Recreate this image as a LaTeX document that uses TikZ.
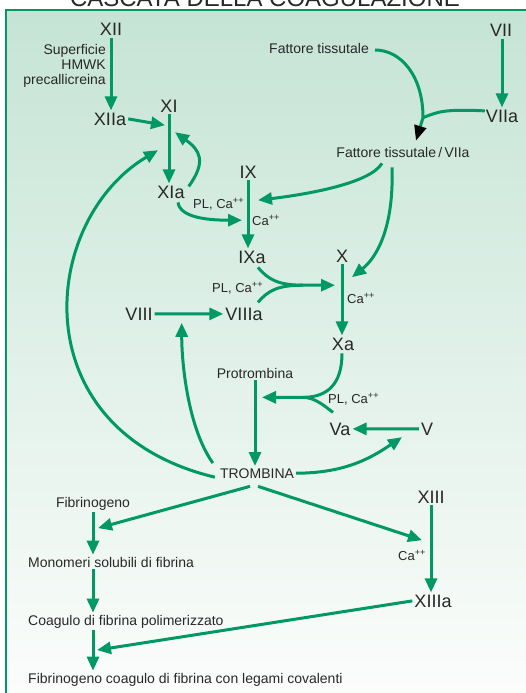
\documentclass[tikz,border=0pt]{standalone}
\usepackage{fontspec}
\setmainfont{Liberation Sans}
\usepackage{tikz}
\usetikzlibrary{calc, arrows.meta}
\definecolor{grn}{RGB}{0,152,100}
\definecolor{txt}{RGB}{40,40,40}
\definecolor{bgtop}{RGB}{197,228,213}
\definecolor{bgbot}{RGB}{252,253,252}

\begin{document}
\begin{tikzpicture}[x=1pt, y=-1pt, >={Triangle[length=14pt, width=12pt]},
  fac/.style={anchor=base, inner sep=2pt, text=txt, font=\fontsize{18}{20}\selectfont},
  lab/.style={anchor=base, inner sep=2pt, text=txt, font=\fontsize{14}{15}\selectfont},
  ion/.style={anchor=base west, inner sep=0pt, text=txt, font=\fontsize{13}{15}\selectfont},
  arr/.style={->, draw=grn, line width=3pt},
  ln/.style={draw=grn, line width=3pt}]
\useasboundingbox (0,0) rectangle (525,693);
\shade[top color=bgtop, bottom color=bgbot] (6,10) rectangle (530,700);
\draw[grn, line width=2.6pt] (530,10) -- (6,10) -- (6,700);
\node[anchor=base, text=txt, font=\fontsize{24}{26}\selectfont] (title) at (265,7) {CASCATA DELLA COAGULAZIONE};

\node[fac] (XII) at (111,36) {XII};
\node[lab, anchor=north east, align=right] (sup) at (108,42) {Superficie\\HMWK\\precallicreina};
\node[fac] (XIIa) at (110,125) {XIIa};
\node[fac] (XI) at (169,112) {XI};
\node[fac] (XIa) at (171,198) {XIa};
\node[fac] (IX) at (248,178) {IX};
\node[fac] (IXa) at (252,263) {IXa};
\node[fac] (X) at (342,262) {X};
\node[fac] (Xa) at (343,350) {Xa};
\node[fac] (VIII) at (139,320) {VIII};
\node[fac] (VIIIa) at (244,320) {VIIIa};
\node[fac] (VII) at (501,37) {VII};
\node[fac] (VIIa) at (502,122) {VIIa};
\node[fac] (Va) at (340,435) {Va};
\node[fac] (V) at (427,435) {V};
\node[fac] (XIII) at (431,503) {XIII};
\node[fac] (XIIIa) at (433,607) {XIIIa};
\node[lab] (ft) at (319,53) {Fattore tissutale};
\node[lab] (ftv) at (403,157) {Fattore tissutale\,/\,VIIa};
\node[lab] (pro) at (255,378) {Protrombina};
\node[lab] (tr) at (257,478) {TROMBINA};
\node[lab] (fib) at (93,507) {Fibrinogeno};
\node[lab, anchor=base west] (mono) at (26,567) {Monomeri solubili di fibrina};
\node[lab, anchor=base west] (coag) at (26,625) {Coagulo di fibrina polimerizzato};
\node[lab, anchor=base west] (fin) at (26,683) {Fibrinogeno coagulo di fibrina con legami covalenti};
\node[ion] (ca1) at (193,208) {PL, Ca\textsuperscript{++}};
\node[ion] (ca2) at (252,225) {Ca\textsuperscript{++}};
\node[ion] (ca3) at (212,292) {PL, Ca\textsuperscript{++}};
\node[ion] (ca4) at (347,303) {Ca\textsuperscript{++}};
\node[ion] (ca5) at (328,403) {PL, Ca\textsuperscript{++}};
\node[ion] (ca6) at (398,560) {Ca\textsuperscript{++}};

\coordinate (j1) at ($(ftv.north)+(20,-27)$);
\coordinate (tf) at ($(ftv.north)+(13,-4)$);
\coordinate (m2) at ($(X.south)+(-39,21)$);
\coordinate (m3) at ($(pro.south)+(48,17)$);

\draw[arr] (XII.south) -- (XII.south |- XIIa.north);
\draw[arr] (XIIa.east) -- ($(XI.south)+(-4,11)$);
\draw[arr] (XI.south) -- (XI.south |- XIa.north);
\draw[arr] ($(XIa.north east)+(2,3)$) .. controls +(18,-25) and +(25,18) .. ($(XI.south)+(6,18)$);
\draw[arr] ($(XIa.south)+(7,2)$) .. controls +(2,15) and +(-35,0) .. ($(IX.south)+(-6,40)$);
\draw[arr] (IX.south) -- (IX.south |- IXa.north);
\draw[arr] ($(ftv.south)+(-21,4)$) .. controls +(-12,20) and +(50,-6) .. ($(IX.south)+(10,20)$);
\draw[arr] ($(ftv.south)+(-11,8)$) .. controls +(2,60) and +(25,-20) .. ($(X.south)+(10,13)$);
\draw[arr] (X.south) -- (X.south |- Xa.north);
\draw[arr] ($(IXa.south)+(6,2)$) .. controls +(10,12) and +(-25,0) .. (m2) -- ($(X.south)+(-7,21)$);
\draw[ln] ($(VIIIa.north)+(14,-3)$) .. controls +(10,-12) and +(-25,0) .. (m2);
\draw[arr] (VIII.east) -- (VIIIa.west);
\draw[arr] ($(tr.north west)+(-5,-3)$) .. controls +(-25,-35) and +(0,40) .. ($(VIII.east)+(27,9)$);
\draw[arr] ($(tr.west)+(-3,4)$) .. controls +(-195,-47) and +(-118,70) .. ($(XI.south)+(-11,36)$);
\draw[arr] ($(Xa.south)+(-1,1)$) .. controls +(0,30) and +(25,0) .. (m3) -- ($(pro.south)+(7,17)$);
\draw[ln] ($(Va.north)+(-7,-8)$) .. controls +(-8,-6) and +(12,0) .. (m3);
\draw[arr] (pro.south) -- (pro.south |- tr.north);
\draw[arr] (V.west) -- (Va.east);
\draw[arr] (tr.east) .. controls +(50,0) and +(-30,20) .. ($(V.south)+(-25,0)$);
\draw[arr] ($(tr.south)+(-7,6)$) -- ($(fib.south)+(5,16)$);
\draw[arr] ($(tr.south)+(1,6)$) -- ($(XIII.south)+(-9,35)$);
\draw[arr] (fib.south) -- (fib.south |- mono.north);
\draw[arr] (fib.south |- mono.south) -- (fib.south |- coag.north);
\draw[arr] (fib.south |- coag.south) -- (fib.south |- fin.north);
\draw[arr] (XIII.south) -- (XIII.south |- XIIIa.north);
\draw[arr] (XIIIa.west) -- ($(fib.south |- coag.south)+(4,20)$);
\draw[arr] (VIIa.north |- VII.south) -- (VIIa.north);
\draw[ln] ($(VIIa.west)+(1,-5)$) .. controls +(-40,-2) and +(15,-6) .. (j1);
\draw[ln, -{Triangle[length=15pt, width=12pt, color=black]}] ($(ft.east)+(4,2)$) .. controls +(25,0) and +(0,-43) .. (j1) -- (tf);
\end{tikzpicture}
\end{document}
